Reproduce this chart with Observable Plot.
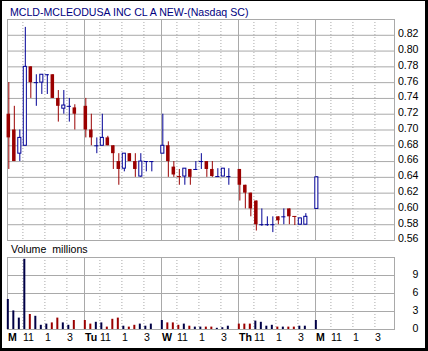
<!DOCTYPE html>
<html><head><meta charset="utf-8">
<script src="https://cdn.jsdelivr.net/npm/d3@7"></script>
<script src="https://cdn.jsdelivr.net/npm/@observablehq/plot@0.6"></script>
<style>
html,body{margin:0;padding:0;background:#fff;}
#wrap{position:relative;width:428px;height:351px;overflow:hidden;font-family:"Liberation Sans",Arial,sans-serif;background:#fff;}
#frame{position:absolute;left:0;top:0;width:428px;height:351px;box-sizing:border-box;border-style:solid;border-color:#000;border-width:1px 3px 3px 2px;pointer-events:none;}
#title{position:absolute;left:10px;top:6px;font-size:10.6px;line-height:12px;color:#000080;white-space:nowrap;}
#vlabel{position:absolute;left:11px;top:243px;font-size:10.6px;line-height:12px;color:#000;white-space:nowrap;word-spacing:3px;}
.p{position:absolute;left:0;}
</style></head><body>
<div id="wrap">
 <div id="price" class="p" style="top:0"></div>
 <div id="vol" class="p" style="top:240px"></div>
 <div id="title">MCLD-MCLEODUSA INC CL A NEW-(Nasdaq SC)</div>
 <div id="vlabel">Volume millions</div>
 <div id="frame"></div>
</div>
<script>
const days = ["M","Tu","W","Th","M"];
const hourLabels = ["11","1","3"];
const priceTicks = [0.56,0.58,0.60,0.62,0.64,0.66,0.68,0.70,0.72,0.74,0.76,0.78,0.80,0.82];
const volumeTicks = [0,3,6,9];

const barDay = [0,0,0,0,0,0,0,0,0,0,0,0,0, 1,1,1,1,1,1,1,1,1,1,1,1,1, 2,2,2,2,2,2,2,2,2,2,2,2,2, 3,3,3,3,3,3,3,3,3,3,3,3,3, 4];
const barSlot = [0,1,2,3,4,5,6,7,8,9,10,11,12, 0,1,2,3,4,5,6,7,8,9,10,11,12, 0,1,2,3,4,5,6,7,8,9,10,11,12, 0,1,2,3,4,5,6,7,8,9,10,11,12, 0];
const open = [
 .72,.70,.67,.68,.78,.76,.76,.77,.77,.74,.727,.73,.728,
 .73,.70,.68,.68,.69,.68,.66,.651,.67,.66,.641,.66,.66,
 .67,.68,.653,.641,.641,.65,.65,.66,.66,.65,.641,.641,.641,
 .65,.63,.62,.61,.58,.58,.58,.59,.59,.60,.5905,.58,.58,
 .60];
const high = [
 .76,.73,.70,.83,.78,.77,.77,.77,.77,.75,.75,.74,.732,
 .74,.72,.69,.72,.692,.68,.67,.67,.67,.67,.67,.66,.66,
 .72,.685,.66,.65,.651,.65,.66,.67,.66,.66,.651,.651,.651,
 .65,.63,.62,.61,.60,.59,.59,.59,.60,.60,.59,.588,.594,
 .641];
const low = [
 .65,.66,.66,.68,.74,.73,.745,.745,.74,.71,.72,.71,.70,
 .69,.68,.67,.68,.68,.65,.63,.647,.66,.64,.64,.647,.647,
 .67,.64,.64,.63,.63,.63,.65,.65,.64,.64,.641,.641,.63,
 .61,.60,.59,.572,.578,.578,.57,.58,.58,.58,.579,.58,.58,
 .60];
const close = [
 .69,.66,.69,.78,.76,.76,.77,.77,.74,.73,.731,.73,.72,
 .70,.69,.68,.69,.68,.67,.65,.67,.66,.65,.66,.66,.66,
 .68,.66,.643,.64,.651,.64,.65,.66,.65,.641,.641,.651,.641,
 .63,.62,.60,.58,.58,.58,.58,.585,.59,.59,.59,.588,.59,
 .64];
const volume = [
 5.0,3.1,1.9,11.7,2.5,2.2,0.7,0.9,1.1,1.9,1.1,0.7,1.5,
 1.5,0.9,1.2,1.1,0.4,1.7,1.9,0.55,0.4,0.7,0.9,0.55,0.9,
 1.5,1.1,1.1,0.7,0.9,0.55,0.4,0.4,0.4,0.4,0.2,0.3,0.55,
 0.9,0.9,0.9,1.4,1.2,0.55,0.7,0.4,0.4,0.4,0.4,0.55,0.55,
 1.5];
const volumeUp = [
 1,1,1,1,0,1,1,1,0,0,1,1,0,
 0,0,1,1,0,0,0,1,0,0,1,1,1,
 1,0,0,0,1,0,1,1,0,0,1,1,1,
 0,0,0,1,1,1,1,0,1,0,0,1,1,
 1];

const BLUE = "#000096", RED = "#9a0000", NAVY = "#000046", GRID = "#a9a9a9";
const FONT = '"Liberation Sans", Arial, sans-serif';
const SLOTS = 14, XMAX = 70.36;

const bars = d3.range(open.length).map(i => ({
  t: SLOTS * barDay[i] + barSlot[i] + 0.24,
  o: open[i], h: high[i], l: low[i], c: close[i], v: volume[i], vu: volumeUp[i]
}));
const isUp = b => b.c >= b.o;
const isDoji = b => Math.abs(b.c - b.o) < 0.0025;
const dayT = days.map((d, i) => SLOTS * i);
const hourT = days.flatMap((d, i) => [2.8, 6.8, 10.8].map(h => SLOTS * i + h));
const hourText = days.flatMap(() => hourLabels);

const style = {fontFamily: FONT, fontSize: "10.6px", color: "#000", background: "transparent", overflow: "visible"};

const price = Plot.plot({
  width: 428, height: 245, marginLeft: 7, marginRight: 34, marginTop: 19, marginBottom: 5,
  style,
  color: {type: "identity"},
  x: {domain: [0, XMAX], axis: null},
  y: {domain: [0.56, 0.84], axis: null},
  marks: [
    Plot.ruleY(priceTicks.slice(1), {stroke: GRID}),
    Plot.ruleX(dayT.slice(1), {stroke: GRID}),
    Plot.ruleX(hourT, {stroke: GRID, strokeDasharray: "1,2"}),
    Plot.frame({stroke: GRID}),
    Plot.axisY(priceTicks, {anchor: "right", tickSize: 0, tickPadding: 24, textAnchor: "end", tickFormat: d3.format(".2f"), dy: -1.5, label: null, fill: "#000"}),
    Plot.ruleX(bars, {x: "t", y1: "l", y2: "h", stroke: b => isUp(b) ? BLUE : RED}),
    Plot.rect(bars.filter(b => !isDoji(b) && !isUp(b)), {x1: b => b.t - 0.32, x2: b => b.t + 0.32, y1: "o", y2: "c", fill: RED}),
    Plot.rect(bars.filter(b => !isDoji(b) && isUp(b)), {x1: b => b.t - 0.28, x2: b => b.t + 0.28, y1: "o", y2: "c", fill: "white", stroke: BLUE}),
    Plot.ruleY(bars.filter(isDoji), {y: "o", x1: b => b.t - 0.38, x2: b => b.t + 0.38, stroke: b => isUp(b) ? BLUE : RED})
  ]
});
document.getElementById("price").appendChild(price);

const vol = Plot.plot({
  width: 428, height: 111, marginLeft: 7, marginRight: 34, marginTop: 17, marginBottom: 22,
  style,
  color: {type: "identity"},
  x: {domain: [0, XMAX], axis: null},
  y: {domain: [0, 12], axis: null},
  marks: [
    Plot.ruleY([3, 6, 9], {stroke: GRID}),
    Plot.ruleX(dayT.slice(1), {stroke: GRID}),
    Plot.ruleX(hourT, {stroke: GRID, strokeDasharray: "1,2"}),
    Plot.frame({stroke: GRID}),
    Plot.axisY(volumeTicks, {anchor: "right", tickSize: 0, tickPadding: 24, textAnchor: "end", dy: -1, label: null, fill: "#000"}),
    Plot.ruleX(bars, {x: "t", y1: 0, y2: "v", stroke: b => b.vu ? NAVY : RED, strokeWidth: 2, dx: -1}),
    Plot.text(days, {x: (d, i) => dayT[i], text: d => d, frameAnchor: "bottom", dy: 11, dx: 0.5, textAnchor: "start", fontWeight: "bold", fill: "#000"}),
    Plot.text(hourText, {x: (d, i) => hourT[i], text: d => d, frameAnchor: "bottom", dy: 11, textAnchor: "start", fill: "#000"})
  ]
});
document.getElementById("vol").appendChild(vol);
</script>
</body></html>
